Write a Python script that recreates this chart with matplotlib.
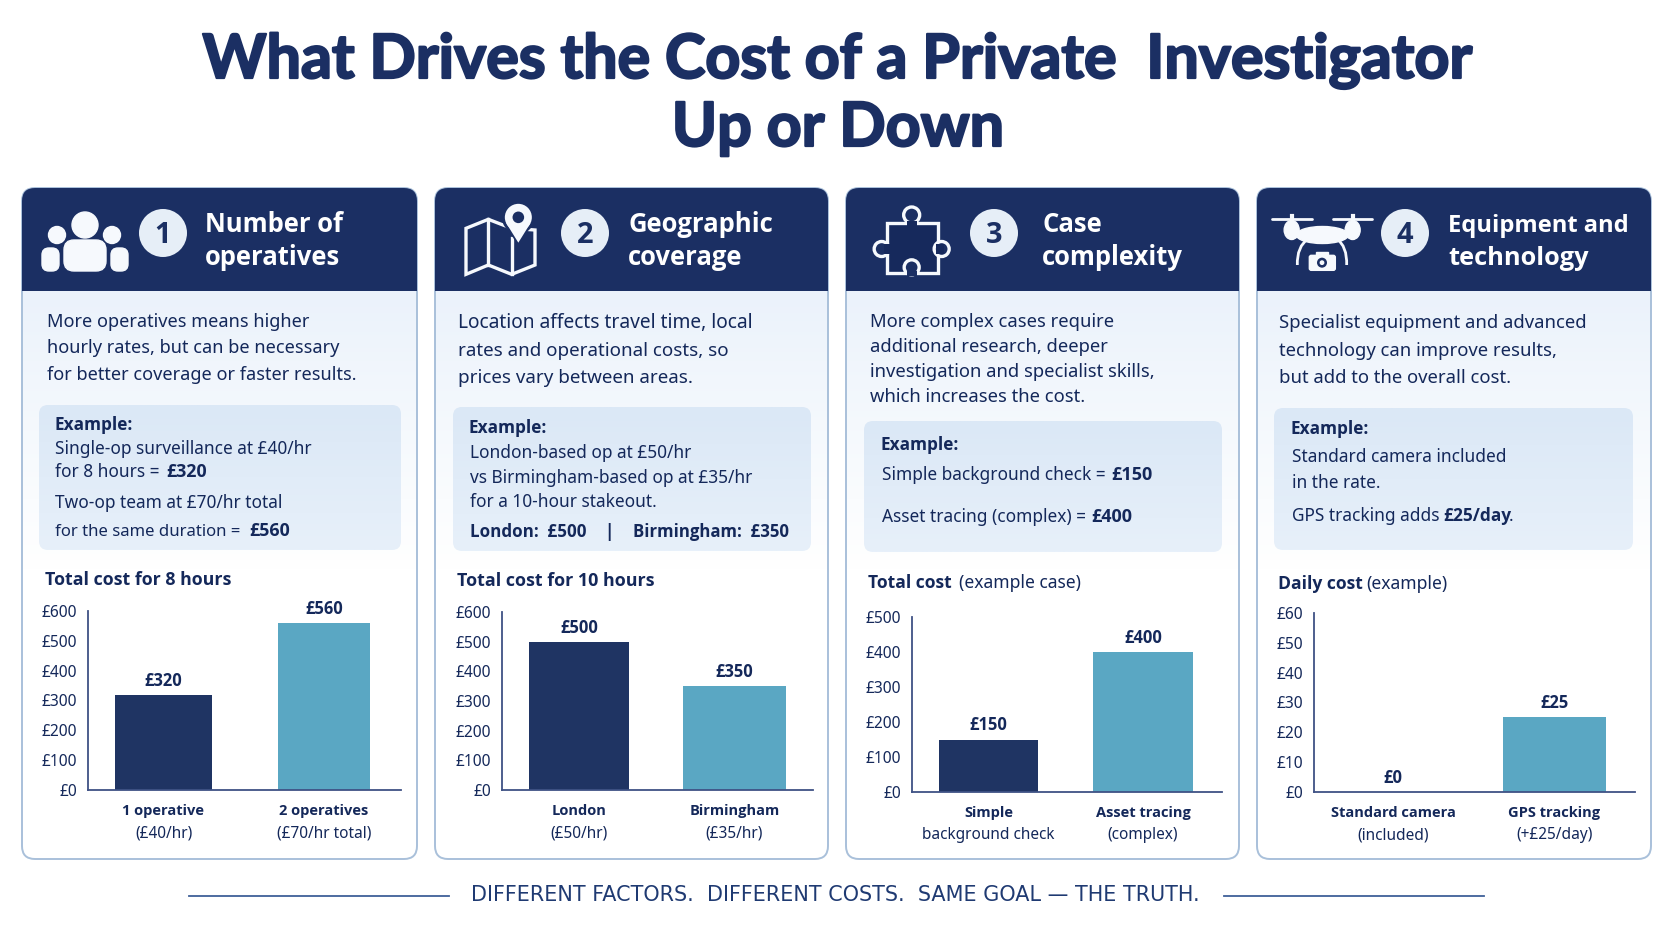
import matplotlib
matplotlib.use('Agg')
import numpy as np
import matplotlib.pyplot as plt
import matplotlib.patheffects as pe
from matplotlib.patches import Circle, Ellipse, FancyBboxPatch, PathPatch, Polygon, Rectangle
from matplotlib.path import Path
from matplotlib.colors import LinearSegmentedColormap

# chart data, one small set per card
card1_categories = ['1 operative', '2 operatives']
card1_notes = ['(£40/hr)', '(£70/hr total)']
card1_values = [320, 560]
card1_value_labels = ['£320', '£560']
card1_ticks = [0, 100, 200, 300, 400, 500, 600]

card2_categories = ['London', 'Birmingham']
card2_notes = ['(£50/hr)', '(£35/hr)']
card2_values = [500, 350]
card2_value_labels = ['£500', '£350']
card2_ticks = [0, 100, 200, 300, 400, 500, 600]

card3_categories = ['Simple', 'Asset tracing']
card3_notes = ['background check', '(complex)']
card3_values = [150, 400]
card3_value_labels = ['£150', '£400']
card3_ticks = [0, 100, 200, 300, 400, 500]

card4_categories = ['Standard camera', 'GPS tracking']
card4_notes = ['(included)', '(+£25/day)']
card4_values = [0, 25]
card4_value_labels = ['£0', '£25']
card4_ticks = [0, 10, 20, 30, 40, 50, 60]

NAVY = '#1b2f63'
BAR_DARK = '#1f3463'
BAR_TEAL = '#5aa7c3'
INK = '#14285a'
AXIS = '#3f5285'
BORDER = '#a9c0da'
WHITE = '#f6f9fd'
FONT = 'Noto Sans'
BOLD_FONT = 'Open Sans'
W, H = 1672, 941


def px(size):
    return size * 0.72


fig = plt.figure(figsize=(W / 100, H / 100), dpi=100, facecolor='white')
bg = fig.add_axes([0, 0, 1, 1])
bg.set_xlim(0, W)
bg.set_ylim(H, 0)
bg.axis('off')


def put(x, y, s, size, bold=False, color=INK, ha='left', family=None, zorder=5):
    if family is None:
        family = BOLD_FONT if bold else FONT
    return bg.text(x, y, s, fontsize=px(size), fontweight='bold' if bold else 'normal', color=color,
                   ha=ha, va='baseline', family=family, zorder=zorder)


def draw_card(x0, x1, num, num_x, head_x, head_lines, head_sizes, ex_box):
    top, head_bottom, bottom = 188, 291, 859
    card = FancyBboxPatch((x0, top), x1 - x0, bottom - top, boxstyle='round,pad=0,rounding_size=13',
                          facecolor='white', edgecolor='none', zorder=1)
    bg.add_patch(card)
    grad = LinearSegmentedColormap.from_list('g', ['#ebf2fb', '#f5f9fd', '#ffffff'])
    im = bg.imshow(np.linspace(0, 1, 100).reshape(-1, 1), cmap=grad, extent=(x0, x1, 570, head_bottom),
                   aspect='auto', zorder=1.1)
    im.set_clip_path(card)
    bg.add_patch(FancyBboxPatch((x0, top), x1 - x0, bottom - top, boxstyle='round,pad=0,rounding_size=13',
                                facecolor='none', edgecolor=BORDER, linewidth=1.4, zorder=1.8))
    head = FancyBboxPatch((x0, top), x1 - x0, 130, boxstyle='round,pad=0,rounding_size=13',
                          facecolor=NAVY, edgecolor='none', zorder=2)
    bg.add_patch(head)
    head.set_clip_path(Rectangle((x0 - 2, top - 2), x1 - x0 + 4, head_bottom - top + 2, transform=bg.transData))
    # example box
    ex_x0, ex_x1, ex_y0, ex_y1 = ex_box
    box = FancyBboxPatch((ex_x0, ex_y0), ex_x1 - ex_x0, ex_y1 - ex_y0, boxstyle='round,pad=0,rounding_size=9',
                         facecolor='none', edgecolor='none', zorder=1.4)
    bg.add_patch(box)
    box_grad = LinearSegmentedColormap.from_list('b', ['#dbe8f6', '#e7f0fa'])
    im2 = bg.imshow(np.linspace(0, 1, 50).reshape(-1, 1), cmap=box_grad, extent=(ex_x0, ex_x1, ex_y1, ex_y0),
                    aspect='auto', zorder=1.5)
    im2.set_clip_path(box)
    bg.set_xlim(0, W)
    bg.set_ylim(H, 0)
    bg.add_patch(Circle((num_x, 233), 24, facecolor='#e6eef7', edgecolor='none', zorder=3))
    put(num_x, 243, num, 29, bold=True, color=NAVY, ha='center')
    put(head_x, 232, head_lines[0], head_sizes[0], bold=True, color='white')
    put(head_x, 265, head_lines[1], head_sizes[1], bold=True, color='white')


def draw_people():
    c = WHITE
    bg.add_patch(Circle((57, 235), 8.5, color=c, zorder=4))
    bg.add_patch(Circle((112, 235), 8.5, color=c, zorder=4))
    bg.add_patch(Circle((85, 225), 13, color=c, zorder=4))
    bg.add_patch(FancyBboxPatch((64, 240), 42, 31, boxstyle='round,pad=0,rounding_size=10', color=c, zorder=4))
    bg.add_patch(FancyBboxPatch((42, 248), 17, 23, boxstyle='round,pad=0,rounding_size=7', color=c, zorder=4))
    bg.add_patch(FancyBboxPatch((111, 248), 17, 23, boxstyle='round,pad=0,rounding_size=7', color=c, zorder=4))


def draw_map():
    def p(zx, zy):
        return 430 + zx / 3, 180 + zy / 3
    pts = [p(108, 145), p(175, 118), p(245, 145), p(315, 150), p(315, 255), p(245, 283), p(175, 255), p(108, 283)]
    bg.add_patch(Polygon(pts, closed=True, facecolor='none', edgecolor=WHITE, linewidth=2.4, zorder=4))
    bg.plot(*zip(p(175, 118), p(175, 255)), color=WHITE, lw=2.4, zorder=4)
    bg.plot(*zip(p(245, 175), p(245, 283)), color=WHITE, lw=2.4, zorder=4)
    cx, cy = p(265, 112)
    tip = p(265, 188)
    l, r = p(229, 130), p(301, 130)
    bg.add_patch(Circle((cx, cy), 16.5, facecolor=NAVY, edgecolor='none', zorder=4.1))
    bg.add_patch(Polygon([p(222, 130), p(308, 130), p(265, 198)], facecolor=NAVY, edgecolor='none', zorder=4.1))
    bg.add_patch(Circle((cx, cy), 13.5, facecolor=WHITE, edgecolor='none', zorder=4.2))
    bg.add_patch(Polygon([l, r, tip], facecolor=WHITE, edgecolor='none', zorder=4.2))
    bg.add_patch(Circle((cx, cy), 5.8, facecolor=NAVY, edgecolor='none', zorder=4.3))


def draw_puzzle():
    def p(zx, zy):
        return 840 + zx / 3, 180 + zy / 3
    inner = '#16295c'
    x0, y0 = p(140, 130)
    x1, y1 = p(295, 280)
    bg.add_patch(Rectangle((x0, y0), x1 - x0, y1 - y0, facecolor=inner, edgecolor=WHITE, linewidth=2.4, zorder=4))
    for zx, zy, r in [(215, 105, 8), (125, 207, 7.5), (305, 207, 7.5), (215, 262, 7.5)]:
        bg.add_patch(Circle(p(zx, zy), r, facecolor=NAVY, edgecolor=WHITE, linewidth=2.4, zorder=4.2))
    # open the joints between the knobs and the square
    bg.add_patch(Rectangle(p(200, 122), 10, 9, facecolor=inner, edgecolor='none', zorder=4.3))
    bg.add_patch(Rectangle(p(132, 192), 9, 10, facecolor=inner, edgecolor='none', zorder=4.3))
    bg.add_patch(Rectangle(p(287, 192), 8, 10, facecolor=inner, edgecolor='none', zorder=4.3))
    bg.add_patch(Rectangle(p(200, 272), 10, 5, facecolor=NAVY, edgecolor='none', zorder=4.3))


def draw_drone():
    def p(zx, zy):
        return 1240 + zx / 3, 180 + zy / 3
    bg.plot(*zip(p(97, 117), p(215, 117)), color=WHITE, lw=2.0, zorder=4, solid_capstyle='round')
    bg.plot(*zip(p(280, 117), p(395, 117)), color=WHITE, lw=2.0, zorder=4, solid_capstyle='round')
    for zx in (155, 338):
        bg.plot(*zip(p(zx, 108), p(zx, 135)), color=WHITE, lw=3, zorder=4)
        bg.add_patch(Ellipse(p(zx, 150), 15, 19, color=WHITE, zorder=4))
    bg.add_patch(Ellipse(p(247, 165), 52, 17, color=WHITE, zorder=4))
    for a, b, c in [(p(205, 175), p(170, 200), p(172, 255)), (p(290, 175), p(322, 200), p(320, 255))]:
        leg = Path([a, b, c], [Path.MOVETO, Path.CURVE3, Path.CURVE3])
        bg.add_patch(PathPatch(leg, facecolor='none', edgecolor=WHITE, linewidth=2.0, zorder=4))
    bg.add_patch(FancyBboxPatch(p(208, 226), 26, 15, boxstyle='round,pad=0,rounding_size=2', color=WHITE, zorder=4))
    bg.add_patch(Rectangle(p(228, 216), 12, 5, color=WHITE, zorder=4))
    bg.add_patch(Circle(p(246, 248), 5, facecolor=NAVY, edgecolor='none', zorder=4.2))
    bg.add_patch(Circle(p(246, 248), 2.4, facecolor=WHITE, edgecolor='none', zorder=4.3))


def draw_bars(rect, centres, widths, ymax, categories, notes, values, value_labels, ticks):
    left, right, y0, ytop = rect
    ax = fig.add_axes([left / W, 1 - y0 / H, (right - left) / W, (y0 - ytop) / H], zorder=6)
    ax.patch.set_alpha(0)
    step = centres[1] - centres[0]
    x = np.arange(len(values))
    bar_w = [w / step for w in widths]
    ax.bar(x, values, width=bar_w, color=[BAR_DARK, BAR_TEAL])
    ax.set_xlim((left - centres[0]) / step, (right - centres[0]) / step)
    ax.set_ylim(0, ymax)
    ax.set_yticks(ticks)
    ax.set_yticklabels(['£%d' % t for t in ticks], fontsize=px(15.5), color=INK, family=FONT)
    ax.tick_params(axis='y', length=0, pad=px(11))
    ax.set_xticks([])
    for side in ('top', 'right'):
        ax.spines[side].set_visible(False)
    for side in ('left', 'bottom'):
        ax.spines[side].set_color(AXIS)
        ax.spines[side].set_linewidth(1.3)
    for i in x:
        ax.annotate(value_labels[i], xy=(i, values[i]), xytext=(0, px(9)), textcoords='offset points', ha='center',
                    va='baseline', fontsize=px(16.5), fontweight='bold', color=INK, family=BOLD_FONT)
        ax.annotate(categories[i], xy=(i, 0), xytext=(0, -px(25)), textcoords='offset points', ha='center',
                    va='baseline', fontsize=px(14.6), fontweight='bold', color=INK, family=BOLD_FONT)
        ax.annotate(notes[i], xy=(i, 0), xytext=(0, -px(47)), textcoords='offset points', ha='center',
                    va='baseline', fontsize=px(15.4), color=INK, family=FONT)
    return ax


# title, thickened a little with a stroke
heavy = [pe.withStroke(linewidth=1.6, foreground=NAVY)]
t1 = put(837, 78, 'What Drives the Cost of a Private  Investigator', 61, bold=True, color=NAVY, ha='center', family='Lato')
t2 = put(838, 146, 'Up or Down', 61, bold=True, color=NAVY, ha='center', family='Lato')
t1.set_path_effects(heavy)
t2.set_path_effects(heavy)

# cards
draw_card(22, 417, '1', 163, 205, ['Number of', 'operatives'], (25.6, 25.6), (39, 401, 405, 550))
draw_card(435, 828, '2', 585, 628, ['Geographic', 'coverage'], (25.6, 25.6), (453, 811, 407, 551))
draw_card(846, 1239, '3', 994, 1042, ['Case', 'complexity'], (25.6, 25.6), (864, 1222, 421, 552))
draw_card(1257, 1651, '4', 1405, 1448, ['Equipment and', 'technology'], (23.8, 25.4), (1274, 1633, 408, 550))
draw_people()
draw_map()
draw_puzzle()
draw_drone()

EX = 17.3
# card 1 text
put(47, 327, 'More operatives means higher', 18.2)
put(47, 353, 'hourly rates, but can be necessary', 18.2)
put(47, 380, 'for better coverage or faster results.', 18.2)
put(54, 430, 'Example:', EX, bold=True)
put(55, 454, 'Single-op surveillance at £40/hr', EX)
put(55, 477, 'for 8 hours = ', EX)
put(166, 477, '£320', 17.8, bold=True)
put(55, 508, 'Two-op team at £70/hr total', EX)
put(55, 536, 'for the same duration = ', 16.7)
put(249, 536, '£560', 17.8, bold=True)
put(45, 585, 'Total cost for 8 hours', 17.8, bold=True)

# card 2 text
put(458, 328, 'Location affects travel time, local', 19.2)
put(458, 356, 'rates and operational costs, so', 18.8)
put(458, 383, 'prices vary between areas.', 18.8)
put(469, 433, 'Example:', EX, bold=True)
put(470, 458, 'London-based op at £50/hr', EX)
put(470, 483, 'vs Birmingham-based op at £35/hr', EX)
put(470, 507, 'for a 10-hour stakeout.', EX)
put(470, 537, 'London:  £500', 17, bold=True)
put(604, 537, '|', 17, bold=True)
put(633, 537, 'Birmingham:  £350', 16.7, bold=True)
put(457, 586, 'Total cost for 10 hours', 17.9, bold=True)

# card 3 text
put(870, 327, 'More complex cases require', 18.4)
put(870, 352, 'additional research, deeper', 18.4)
put(870, 377, 'investigation and specialist skills,', 18.4)
put(870, 402, 'which increases the cost.', 18.4)
put(881, 450, 'Example:', EX, bold=True)
put(882, 480, 'Simple background check = ', EX)
put(1111, 480, '£150', 18, bold=True)
put(882, 522, 'Asset tracing (complex) = ', EX)
put(1091, 522, '£400', 18, bold=True)
put(868, 588, 'Total cost', 17.5, bold=True)
put(959, 588, '(example case)', 17.5)

# card 4 text
put(1279, 328, 'Specialist equipment and advanced', 18.5)
put(1279, 356, 'technology can improve results,', 18.5)
put(1279, 383, 'but add to the overall cost.', 18.5)
put(1291, 434, 'Example:', EX, bold=True)
put(1292, 462, 'Standard camera included', EX)
put(1292, 488, 'in the rate.', EX)
put(1292, 521, 'GPS tracking adds ', EX)
put(1443, 521, '£25/day', EX, bold=True)
put(1509, 521, '.', EX)
put(1278, 589, 'Daily cost', 17.5, bold=True)
put(1366, 589, '(example)', 17.5)

# bar charts
draw_bars((88, 401, 790, 611), (163.5, 324), (97, 92), 600, card1_categories, card1_notes, card1_values,
          card1_value_labels, card1_ticks)
draw_bars((502, 813, 790, 612), (579, 734.5), (100, 103), 600, card2_categories, card2_notes, card2_values,
          card2_value_labels, card2_ticks)
draw_bars((912, 1222, 792, 617), (988.5, 1143), (99, 100), 500, card3_categories, card3_notes, card3_values,
          card3_value_labels, card3_ticks)
draw_bars((1314, 1635, 792, 613), (1393, 1554.5), (100, 103), 60, card4_categories, card4_notes, card4_values,
          card4_value_labels, card4_ticks)

# footer
bg.plot([189, 449], [896, 896], color='#3f6098', lw=1.3, zorder=3)
bg.plot([1224, 1484], [896, 896], color='#3f6098', lw=1.3, zorder=3)
put(835, 901, 'DIFFERENT FACTORS.  DIFFERENT COSTS.  SAME GOAL — THE TRUTH.', 20.8, color='#1f3a72', ha='center',
    family='DejaVu Sans')

fig.savefig('out.png', dpi=100)
